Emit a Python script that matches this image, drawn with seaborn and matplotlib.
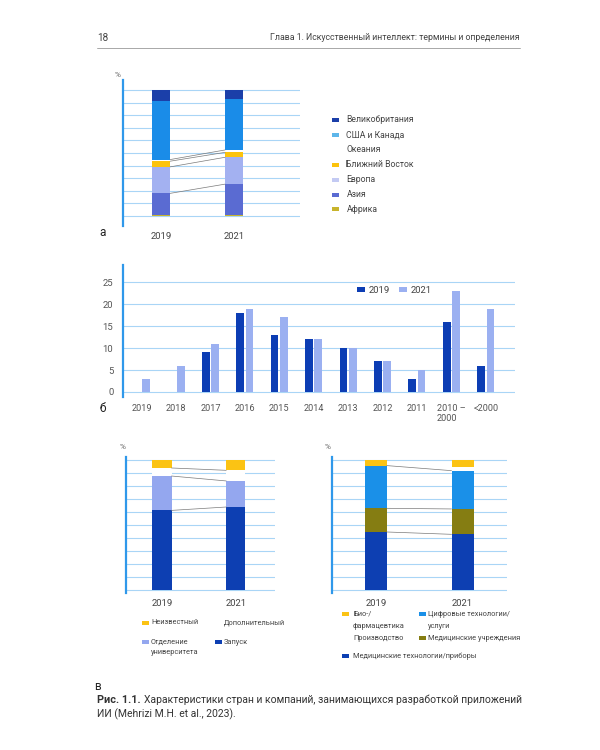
import numpy as np
import pandas as pd
import seaborn as sns
import matplotlib.pyplot as plt
from matplotlib.patches import Rectangle

# data
years = ["2019", "2021"]

# chart a, bottom to top
regions = ["Африка", "Азия", "Европа", "Ближний Восток", "Океания", "США и Канада", "Великобритания"]
africa = [1.0, 0.5]
asia = [17.0, 24.8]
europe = [21.0, 21.3]
mideast = [4.5, 3.9]
oceania = [1.3, 1.9]
usa_canada = [46.8, 40.5]
uk = [8.4, 7.1]

# chart b
founded = ["2019", "2018", "2017", "2016", "2015", "2014", "2013", "2012", "2011", "2010 –\n2000", "<2000"]
count_2019 = [0, 0, 9, 18, 13, 12, 10, 7, 3, 16, 6]
count_2021 = [3, 6, 11, 19, 17, 12, 10, 7, 5, 23, 19]

# chart v left, bottom to top
launch = [61.4, 64.0]
univ = [26.5, 20.1]
extra = [6.2, 8.2]
unknown = [5.9, 7.7]

# chart v right, bottom to top
medtech = [44.6, 42.8]
medinst = [18.3, 19.6]
digital = [33.0, 29.6]
production = [0.0, 2.6]
biopharma = [4.1, 5.4]

sns.set_style("white")
plt.rcParams["font.family"] = ["Roboto", "DejaVu Sans"]

W, H = 600, 750
fig = plt.figure(figsize=(6, 7.5), dpi=100)


def box(l, t, r, b):
    return [l / W, 1 - b / H, (r - l) / W, (b - t) / H]


def ftext(x, y, s, **kw):
    return fig.text(x / W, 1 - y / H, s, **kw)


def patch(x, y, c, w=7, h=4):
    fig.add_artist(Rectangle((x / W, 1 - (y + h / 2) / H), w / W, h / H,
                             color=c, transform=fig.transFigure, lw=0))


GRID = "#a9d5f6"
SPINE = "#2f98ea"
TICK = "#555555"
LEG = 5.35


def style(ax):
    for s in ["top", "right", "bottom"]:
        ax.spines[s].set_visible(False)
    ax.spines["left"].set_color(SPINE)
    ax.spines["left"].set_linewidth(1.6)
    ax.yaxis.grid(True, color=GRID, lw=0.8)
    ax.set_axisbelow(True)
    ax.set_xlabel("")
    ax.set_ylabel("")


def stacked(ax, layers, colors, width, links, ylim, xlim):
    tops = []
    cum = np.zeros(len(years))
    for vals in layers:
        cum = cum + np.array(vals)
        tops.append(cum.copy())
    for top, c in reversed(list(zip(tops, colors))):
        sns.barplot(x=years, y=top, color=c, width=width, saturation=1,
                    linewidth=0, ax=ax)
    for i in links:
        ax.plot([width / 2, 1 - width / 2], tops[i], color="#7a7a7a", lw=0.5)
    style(ax)
    ax.set_yticks(range(0, 101, 10))
    ax.set_yticklabels([])
    ax.tick_params(axis="y", length=0)
    ax.tick_params(axis="x", length=0, pad=4, labelsize=6.8, labelcolor="#444444")
    ax.set_ylim(*ylim)
    ax.set_xlim(*xlim)


# header
ftext(97, 38, "18", fontsize=7.2, color="#444444", va="center")
ftext(520, 38, "Глава 1. Искусственный интеллект: термины и определения",
      fontsize=6.3, color="#444444", va="center", ha="right")
fig.add_artist(plt.Line2D([97 / W, 520 / W], [1 - 48 / H, 1 - 48 / H],
                          color="#9a9a9a", lw=0.6, transform=fig.transFigure))

# chart a
ax_a = fig.add_axes(box(123, 80, 300, 226))
colors_a = ["#c8b42c", "#5a6bd2", "#a3b1f1", "#fcc30c", "#ffffff", "#1a8ce8", "#1b3fa9"]
stacked(ax_a, [africa, asia, europe, mideast, oceania, usa_canada, uk], colors_a,
        0.25, [1, 2, 3, 4], (-7.9, 107.9), (-0.52, 1.9))
ftext(118, 75, "%", fontsize=6, color="#666666", ha="center", va="center")
ftext(103, 232, "а", fontsize=8.5, color="#222222", ha="center", va="center")

legend_a = ["Великобритания", "США и Канада", "Океания", "Ближний Восток", "Европа", "Азия", "Африка"]
legend_a_col = ["#1b3fa9", "#5db6ea", "#ffffff", "#fcc30c", "#c3caf3", "#5a6bd2", "#c8b42c"]
for i, (lab, c) in enumerate(zip(legend_a, legend_a_col)):
    y = 120 + i * 14.9
    patch(332, y, c)
    ftext(346.5, y, lab, fontsize=6.2, color="#444444", va="center")

# chart b
ax_b = fig.add_axes(box(123, 265, 515, 397))
df_b = pd.DataFrame({
    "year": founded * 2,
    "value": count_2019 + count_2021,
    "series": ["2019"] * len(founded) + ["2021"] * len(founded),
})
sns.barplot(data=df_b, x="year", y="value", hue="series", order=founded,
            palette={"2019": "#0c3db4", "2021": "#9bb0f1"}, width=0.54, gap=0.17,
            saturation=1, linewidth=0, ax=ax_b)
style(ax_b)
ax_b.set_yticks(range(0, 26, 5))
ax_b.set_ylim(-1.14, 28.9)
ax_b.set_xlim(-0.54, 10.85)
ax_b.tick_params(axis="y", length=0, pad=7, labelsize=6.8, labelcolor=TICK)
ax_b.tick_params(axis="x", length=0, pad=5, labelsize=6.6, labelcolor=TICK)
for t in ax_b.get_xticklabels():
    t.set_multialignment("left")
ax_b.legend(loc="center left", bbox_to_anchor=(0.585, 0.81), ncol=2, frameon=False,
            fontsize=6.8, handlelength=0.8, handleheight=0.5, handletextpad=0.4,
            columnspacing=1.0, borderpad=0, labelcolor="#444444")
ftext(103, 408, "б", fontsize=8.5, color="#222222", ha="center", va="center")

# chart v left
ax_c = fig.add_axes(box(125.7, 456.7, 275, 593))
stacked(ax_c, [launch, univ, extra, unknown],
        ["#0d3fb2", "#94a7ef", "#ffffff", "#fbc314"],
        0.26, [0, 1, 2], (-2.31, 102.8), (-0.49, 1.53))
ftext(123, 447, "%", fontsize=6, color="#666666", ha="center", va="center")

patch(142, 623, "#fbc314")
ftext(151, 623, "Неизвестный", fontsize=LEG, color="#444444", va="center")
ftext(224, 623, "Дополнительный", fontsize=LEG, color="#444444", va="center")
patch(142, 642, "#94a7ef")
ftext(151, 642, "Отделение", fontsize=LEG, color="#444444", va="center")
ftext(151, 653, "университета", fontsize=LEG, color="#444444", va="center")
patch(215, 642, "#0d3fb2")
ftext(224, 642, "Запуск", fontsize=LEG, color="#444444", va="center")

# chart v right
ax_d = fig.add_axes(box(331.7, 457, 506.7, 593))
stacked(ax_d, [medtech, medinst, digital, production, biopharma],
        ["#0d3fb2", "#857d12", "#1a90e8", "#ffffff", "#fbc314"],
        0.254, [0, 1, 2], (-2.55, 102.55), (-0.51, 1.51))
ftext(328, 447, "%", fontsize=6, color="#666666", ha="center", va="center")

patch(342, 614, "#fbc314")
ftext(353, 614, "Био-/", fontsize=LEG, color="#444444", va="center")
ftext(353, 626, "фармацевтика", fontsize=LEG, color="#444444", va="center")
patch(419, 614, "#1a90e8")
ftext(428, 614, "Цифровые технологии/", fontsize=LEG, color="#444444", va="center")
ftext(428, 626, "услуги", fontsize=LEG, color="#444444", va="center")
ftext(353, 638, "Производство", fontsize=LEG, color="#444444", va="center")
patch(419, 638, "#857d12")
ftext(428, 638, "Медицинские учреждения", fontsize=LEG, color="#444444", va="center")
patch(342, 656, "#0d3fb2")
ftext(353, 656, "Медицинские технологии/приборы", fontsize=LEG, color="#444444", va="center")

ftext(97, 686, "в", fontsize=8.5, color="#222222", ha="center", va="center")

# caption
bold = ftext(97, 700, "Рис. 1.1.", fontsize=7.8, fontweight="bold", color="#333333", va="center")
r = fig.canvas.get_renderer()
bb = bold.get_window_extent(r)
ftext(bb.x1 + 3, 700, "Характеристики стран и компаний, занимающихся разработкой приложений",
      fontsize=7.45, color="#333333", va="center")
ftext(97, 714, "ИИ (Mehrizi M.H. et al., 2023).", fontsize=7.45, color="#333333", va="center")

fig.savefig("out.png", dpi=100)
